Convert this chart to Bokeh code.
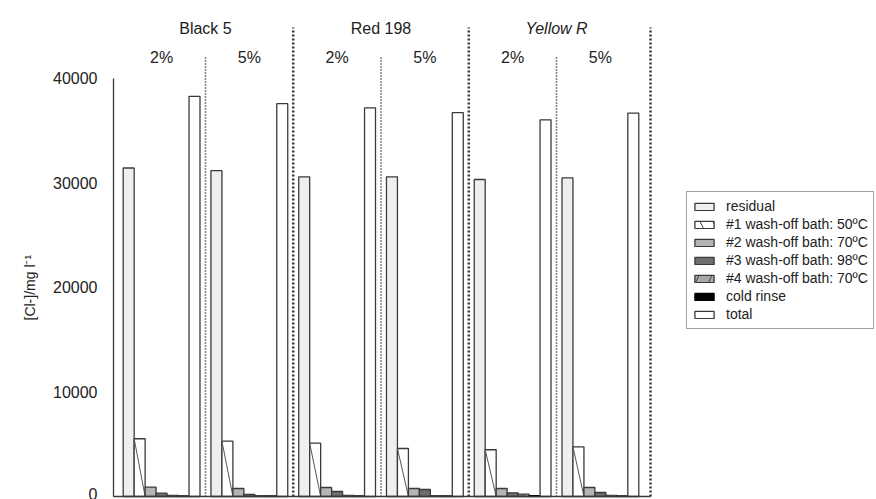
from bokeh.plotting import figure
from bokeh.models import Range1d, FixedTicker, Legend, LegendItem, ColumnDataSource, Title
from bokeh.embed import file_html
from bokeh.resources import INLINE
from bokeh.core.properties import value

# ---------------- data ----------------
dyes = ["Black 5", "Red 198", "Yellow R"]
concentrations = ["2%", "5%"]
series_names = ["residual", "#1 wash-off bath: 50ºC", "#2 wash-off bath: 70ºC",
                "#3 wash-off bath: 98ºC", "#4 wash-off bath: 70ºC", "cold rinse", "total"]

# groups: Black5 2%, Black5 5%, Red198 2%, Red198 5%, YellowR 2%, YellowR 5%
residual = [31400, 31150, 30550, 30550, 30300, 30450]
wash1 = [5520, 5290, 5100, 4590, 4470, 4750]
wash2 = [890, 765, 860, 765, 765, 860]
wash3 = [320, 190, 480, 670, 350, 380]
wash4 = [100, 80, 100, 80, 220, 100]
cold_rinse = [50, 50, 50, 50, 80, 50]
total = [38250, 37550, 37150, 36700, 36000, 36650]
y_ticks = [0, 10000, 20000, 30000, 40000]
y_label = "[Cl-]/mg l⁻¹"

series_values = [residual, wash1, wash2, wash3, wash4, cold_rinse, total]

# ---------------- layout constants ----------------
W, H = 876, 499
LEFT = 113
SLOT = 10.97            # px per bar slot
GROUP = 8               # 7 bars + 1 gap slot
N_GROUPS = len(residual)
FRAME_W = W - LEFT
X0 = -0.384
X1 = X0 + FRAME_W / SLOT
BOTTOM_BORDER = 1
BASE_PX = 496           # screen y of value 0
TOP40_PX = 77.5         # screen y of value 40000
PX_PER_UNIT = (BASE_PX - TOP40_PX) / 40000.0
Y_TOP = 40000 + TOP40_PX / PX_PER_UNIT
Y_BOT = -((H - BOTTOM_BORDER) - BASE_PX) / PX_PER_UNIT


def y_from_top(px):
    return Y_TOP - px / PX_PER_UNIT


FONT = "Liberation Sans"
INK = "#222222"
EDGE = "#3a3a3a"

p = figure(width=W, height=H, output_backend="svg", toolbar_location=None,
           x_range=Range1d(X0, X1), y_range=Range1d(Y_BOT, Y_TOP),
           x_axis_location=None,
           min_border_left=LEFT, min_border_right=0, min_border_top=0,
           min_border_bottom=BOTTOM_BORDER)
p.xgrid.visible = False
p.ygrid.visible = False
p.outline_line_color = None
p.background_fill_color = "white"
p.border_fill_color = "white"

# ---------------- bars ----------------
styles = [
    dict(fill_color="#efefef", line_color=EDGE),   # residual
    dict(fill_color="white", line_color=EDGE),     # #1
    dict(fill_color="#b4b4b4", line_color=EDGE),   # #2
    dict(fill_color="#6e6e6e", line_color=EDGE),   # #3
    dict(fill_color="#a8a8a8", line_color=EDGE),   # #4
    dict(fill_color="black", line_color="black"),  # cold rinse
    dict(fill_color="white", line_color=EDGE),     # total
]

renderers = []
for b, (vals, st) in enumerate(zip(series_values, styles)):
    xs = [g * GROUP + b + 1 for g in range(N_GROUPS)]
    src = ColumnDataSource(dict(x=xs, top=vals))
    r = p.vbar(x="x", top="top", bottom=0, width=1, source=src, line_width=1.3, **st)
    renderers.append(r)
    if b in (1, 4):
        if b == 1:
            seg = dict(x0=[x - 0.5 for x in xs], y0=vals, x1=[x + 0.5 for x in xs], y1=[0] * len(xs))
        else:
            seg = dict(x0=[x - 0.5 for x in xs], y0=[0] * len(xs), x1=[x + 0.5 for x in xs], y1=vals)
        p.segment(x0="x0", y0="y0", x1="x1", y1="y1", source=ColumnDataSource(seg),
                  line_color="#555555", line_width=1)

# ---------------- separators ----------------
thin_x = [2 * d * GROUP + GROUP for d in range(len(dyes))]
thick_x = [2 * (d + 1) * GROUP for d in range(len(dyes) - 1)] + [2 * len(dyes) * GROUP + 0.57]
p.segment(x0=thin_x, y0=[0] * len(thin_x), x1=thin_x, y1=[y_from_top(55)] * len(thin_x),
          line_color="#111111", line_width=1.6, line_dash="1 2")
p.segment(x0=thick_x, y0=[0] * len(thick_x), x1=thick_x, y1=[y_from_top(27)] * len(thick_x),
          line_color="#333333", line_width=2.4, line_dash="2 2")

# baseline (x axis line)
p.segment(x0=[X0], y0=[0], x1=[thick_x[-1]], y1=[0], line_color=EDGE, line_width=1.3)

# ---------------- header labels ----------------
conc_x = [g * GROUP + 4 for g in range(N_GROUPS)]
conc_text = [concentrations[g % 2] for g in range(N_GROUPS)]
p.text(x=conc_x, y=[y_from_top(57)] * N_GROUPS, text=conc_text,
       text_align="center", text_baseline="middle", text_font=value(FONT),
       text_font_size="16px", text_color=INK)
dye_x = [2 * d * GROUP + GROUP for d in range(len(dyes))]
p.text(x=dye_x[:2], y=[y_from_top(28)] * 2, text=dyes[:2],
       text_align="center", text_baseline="middle", text_font=value(FONT),
       text_font_size="16px", text_color=INK)
p.text(x=dye_x[2:], y=[y_from_top(28)], text=dyes[2:],
       text_align="center", text_baseline="middle", text_font=value(FONT),
       text_font_size="16px", text_color=INK, text_font_style="italic")

# ---------------- y axis ----------------
ya = p.yaxis[0]
ya.ticker = FixedTicker(ticks=y_ticks)
ya.bounds = (0, 40000)
ya.major_tick_out = 0
ya.major_tick_in = 0
ya.minor_tick_out = 0
ya.minor_tick_in = 0
ya.major_label_standoff = 16
ya.axis_line_color = EDGE
ya.axis_line_width = 1.3
ya.major_label_text_font = FONT
ya.major_label_text_font_size = "16px"
ya.major_label_text_color = INK

# axis title, placed over the 0..40000 span (starts 178px above the frame bottom)
p.add_layout(Title(text=y_label, align="left", offset=(H - BOTTOM_BORDER) - 320, standoff=26,
                   text_font=FONT, text_font_size="14px", text_font_style="normal",
                   text_color=INK), "left")

# ---------------- legend ----------------
off = [X0 - 10]
proxy1 = p.vbar(x=off, top=[0], width=1, fill_color="white", line_color=EDGE, line_width=1.3,
                hatch_pattern="\\", hatch_scale=26, hatch_weight=1, hatch_color="#444444")
proxy4 = p.vbar(x=off, top=[0], width=1, fill_color="#a8a8a8", line_color=EDGE, line_width=1.3,
                hatch_pattern="/", hatch_scale=26, hatch_weight=1, hatch_color="#444444")
legend_renderers = list(renderers)
legend_renderers[1] = proxy1
legend_renderers[4] = proxy4
items = [LegendItem(label=n, renderers=[r]) for n, r in zip(series_names, legend_renderers)]
legend = Legend(items=items, location=(686 - LEFT, (H - BOTTOM_BORDER) - 329), padding=5, spacing=0,
                glyph_width=24, glyph_height=9, label_height=18, label_standoff=10,
                label_text_font=FONT, label_text_font_size="14px", label_text_color=INK,
                border_line_color="#444444", border_line_width=1.5,
                background_fill_color="white", background_fill_alpha=1.0, margin=0)
p.add_layout(legend)

open("out.html", "w").write(file_html(p, INLINE))
